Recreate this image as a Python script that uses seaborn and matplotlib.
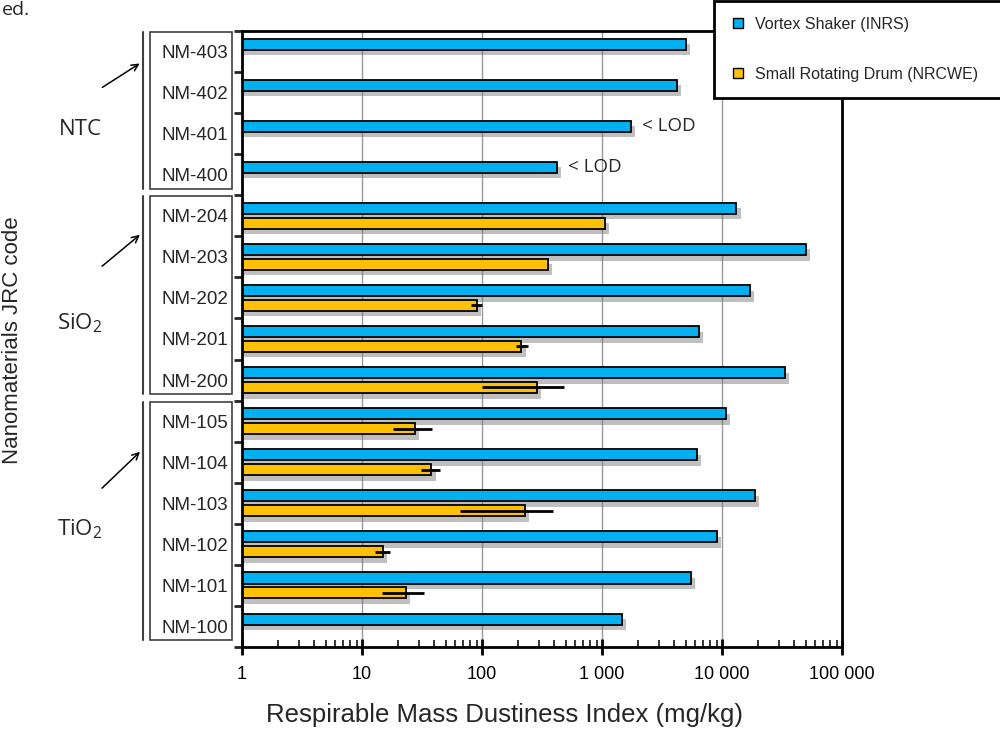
import numpy as np
import pandas as pd
import matplotlib
matplotlib.use("Agg")
import matplotlib.pyplot as plt
import matplotlib.patheffects as pe
import matplotlib.transforms as mtransforms
from matplotlib.lines import Line2D
from matplotlib.patches import Rectangle
import seaborn as sns


# ==============================
# DATA
# ==============================

codes = [
    "NM-403", "NM-402", "NM-401", "NM-400",
    "NM-204", "NM-203", "NM-202", "NM-201", "NM-200",
    "NM-105", "NM-104", "NM-103", "NM-102", "NM-101", "NM-100",
]

vortex = [4980, 4220, 1740, 420,
          13200, 50000, 17000, 6400, 33600,
          10700, 6200, 18900, 9060, 5500, 1460]

nan = np.nan
drum = [nan, nan, nan, nan,
        1050, 352, 91, 213, 289,
        27.6, 37.9, 228, 14.9, 23.4, nan]
drum_low = [nan, nan, nan, nan,
            nan, nan, 81, 193, 100,
            18, 31, 66, 12.9, 14.8, nan]
drum_high = [nan, nan, nan, nan,
             nan, nan, 100, 243, 480,
             38, 45, 391, 17, 33, nan]

methods = ["Vortex Shaker (INRS)", "Small Rotating Drum (NRCWE)"]
colors = ["#00B0F0", "#FFC000"]

groups = ["NTC", "SiO$_2$", "TiO$_2$"]
group_sizes = [4, 5, 6]

lod_codes = ["NM-401", "NM-400"]

xticks = [1, 10, 100, 1000, 10000, 100000]
xticklabels = ["1", "10", "100", "1 000", "10 000", "100 000"]


# ==============================
# STYLE
# ==============================

sns.set_theme(style="white")
plt.rcParams["font.family"] = ["Liberation Sans", "DejaVu Sans"]
plt.rcParams["mathtext.default"] = "regular"

df = pd.DataFrame({
    "code": codes * 2,
    "value": vortex + drum,
    "method": [methods[0]] * len(codes) + [methods[1]] * len(codes),
}).dropna()


# ==============================
# BARS
# ==============================

fig = plt.figure(figsize=(10, 7.29), dpi=100)
ax = fig.add_axes([0.242, 0.1125, 0.600, 0.845])

sns.barplot(
    data=df,
    x="value",
    y="code",
    hue="method",
    order=codes,
    hue_order=methods,
    palette=colors,
    saturation=1,
    orient="h",
    width=0.72,
    gap=0.25,
    errorbar=None,
    edgecolor="black",
    linewidth=1.3,
    legend=False,
    ax=ax,
)
ax.set_xscale("log")

for p in ax.patches:
    p.set_path_effects([
        pe.SimplePatchShadow(offset=(3, -4), shadow_rgbFace="0.45", alpha=0.45),
        pe.Normal(),
    ])

# error bars of the drum method
pos = np.arange(len(codes))
d = np.array(drum)
ax.errorbar(
    x=d,
    y=pos + 0.18,
    xerr=[d - np.array(drum_low), np.array(drum_high) - d],
    fmt="none",
    ecolor="black",
    elinewidth=2,
    capsize=0,
    zorder=5,
)

# < LOD notes
for c in lod_codes:
    i = codes.index(c)
    ax.annotate(
        "< LOD",
        xy=(vortex[i], i - 0.18),
        xytext=(8, 0),
        textcoords="offset points",
        va="center",
        ha="left",
        fontsize=13.5,
        family=["Open Sans", "DejaVu Sans"],
    )


# ==============================
# AXES
# ==============================

ax.set_xlim(1, 100000)
ax.set_ylim(len(codes) - 0.5, -0.5)
ax.set_xticks(xticks)
ax.set_xticklabels(xticklabels, fontsize=13)
ax.set_xlabel("")
ax.set_ylabel("")
ax.set_yticks(np.arange(-0.5, len(codes), 1), minor=True)
ax.tick_params(axis="y", which="major", length=0, pad=10, labelsize=13.5)
ax.tick_params(axis="y", which="minor", length=6, width=2, direction="out", left=True)
ax.tick_params(axis="x", which="major", length=12, width=2, direction="inout",
               bottom=True, pad=8, colors="black")
ax.tick_params(axis="x", which="minor", length=5, width=1.3, direction="in", bottom=True)
ax.grid(axis="x", which="major", color="0.6", linewidth=1)
ax.set_axisbelow(True)

for s in ax.spines.values():
    s.set_visible(True)
    s.set_color("black")
    s.set_linewidth(2)


# ==============================
# GROUP BOXES
# ==============================

label_y = [1.89, 6.61, 11.63]
arrow_from = [0.91, 5.27, 10.68]
arrow_to = [0.255, 4.42, 9.70]

trans = mtransforms.blended_transform_factory(fig.transFigure, ax.transData)
start = 0
for k, (name, n) in enumerate(zip(groups, group_sizes)):
    top = start - 0.47
    bottom = start + n - 0.66
    ax.add_patch(Rectangle((0.150, top), 0.082, bottom - top, transform=trans,
                           fill=False, edgecolor="0.25", linewidth=1.2, clip_on=False))
    ax.add_line(Line2D([0.143, 0.143], [top, bottom], transform=trans,
                       color="0.25", linewidth=1.5, clip_on=False))
    ax.text(0.080, label_y[k], name, transform=trans, ha="center", va="center",
            fontsize=16, family=["Open Sans", "DejaVu Sans"])
    ax.annotate("", xy=(0.142, arrow_to[k]), xycoords=trans,
                xytext=(0.100, arrow_from[k]), textcoords=trans,
                arrowprops=dict(arrowstyle="->", color="black", lw=1.1))
    start += n

fig.text(0.013, 0.534, "Nanomaterials JRC code", rotation=90,
         ha="center", va="center", fontsize=16)
fig.text(0.505, 0.019, "Respirable Mass Dustiness Index (mg/kg)",
         ha="center", va="center", fontsize=18.5)

# caption fragment at the top edge
fig.text(0.002, 0.998, "ed.", ha="left", va="top", fontsize=14,
         family=["Open Sans", "DejaVu Sans"])


# ==============================
# LEGEND
# ==============================

handles = [
    Line2D([], [], marker="s", linestyle="none", markersize=7,
           markerfacecolor=c, markeredgecolor="black", markeredgewidth=1)
    for c in colors
]
leg = fig.legend(
    handles,
    methods,
    loc="lower left",
    bbox_to_anchor=(0.714, 0.866, 0.31, 0.2),
    mode="expand",
    fontsize=11.5,
    frameon=True,
    fancybox=False,
    edgecolor="black",
    framealpha=1,
    borderpad=1.0,
    labelspacing=2.2,
    handlelength=1.0,
    handletextpad=0.55,
    borderaxespad=0,
)
leg.get_frame().set_linewidth(2)

plt.savefig("out.png", dpi=100)
